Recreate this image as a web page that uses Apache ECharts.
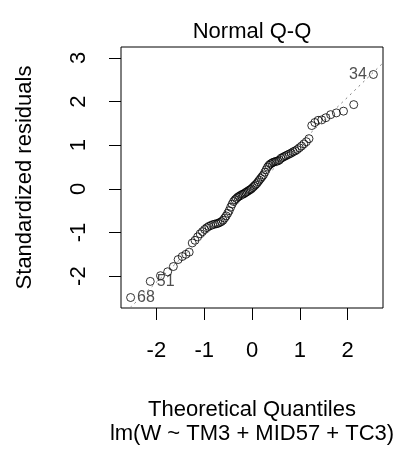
<!DOCTYPE html>
<html>
<head>
<meta charset="utf-8">
<script src="https://cdn.jsdelivr.net/npm/echarts@6/dist/echarts.min.js"></script>
<style>
html,body{margin:0;padding:0;background:#fff;}
#chart{width:400px;height:451px;}
</style>
</head>
<body>
<div id="chart"></div>
<script>
// Theoretical quantiles (n = 90)
const theoQ = [
  -2.539, -2.128, -1.914, -1.764, -1.645, -1.545, -1.459, -1.383, -1.314, -1.250,
  -1.192, -1.137, -1.085, -1.036, -0.990, -0.945, -0.903, -0.862, -0.822, -0.783,
  -0.746, -0.710, -0.674, -0.640, -0.606, -0.573, -0.540, -0.508, -0.477, -0.446,
  -0.415, -0.385, -0.355, -0.326, -0.297, -0.268, -0.240, -0.210, -0.182, -0.154,
  -0.126, -0.098, -0.070, -0.042, -0.014, 0.014, 0.042, 0.070, 0.098, 0.126,
  0.154, 0.182, 0.210, 0.240, 0.268, 0.297, 0.326, 0.355, 0.385, 0.415,
  0.446, 0.477, 0.508, 0.540, 0.573, 0.606, 0.640, 0.674, 0.710, 0.746,
  0.783, 0.822, 0.862, 0.903, 0.945, 0.990, 1.036, 1.085, 1.137, 1.192,
  1.250, 1.314, 1.383, 1.459, 1.545, 1.645, 1.764, 1.914, 2.128, 2.539
];
// Standardized residuals (sorted)
const stdRes = [
  -2.49, -2.12, -1.99, -1.90, -1.78, -1.62, -1.55, -1.50, -1.45, -1.24,
  -1.18, -1.10, -1.03, -0.98, -0.93, -0.89, -0.86, -0.84, -0.82, -0.81,
  -0.80, -0.79, -0.77, -0.75, -0.72, -0.67, -0.62, -0.56, -0.50, -0.42,
  -0.35, -0.29, -0.25, -0.22, -0.19, -0.17, -0.15, -0.13, -0.12, -0.10,
  -0.08, -0.06, -0.04, -0.02, 0.00, 0.03, 0.06, 0.09, 0.12, 0.16,
  0.20, 0.24, 0.28, 0.32, 0.38, 0.44, 0.50, 0.54, 0.57, 0.59,
  0.61, 0.62, 0.63, 0.64, 0.66, 0.70, 0.72, 0.74, 0.76, 0.78,
  0.80, 0.82, 0.85, 0.87, 0.90, 0.94, 0.98, 1.03, 1.08, 1.15,
  1.45, 1.52, 1.57, 1.58, 1.63, 1.70, 1.74, 1.78, 1.93, 2.62
];
const pointLabels = ['68', '51', '34'];
const pointLabelIdx = [0, 1, 89];
const xTicks = [-2, -1, 0, 1, 2];
const yTicks = [-2, -1, 0, 1, 2, 3];
const refLineX = [-3.0, 3.0];
const refLineY = [-3.20, 3.16];

const FONT = "'Liberation Sans', Arial, sans-serif";

const scatterData = theoQ.map((x, i) => {
  const k = pointLabelIdx.indexOf(i);
  const item = { value: [x, stdRes[i]] };
  if (k >= 0) {
    item.label = {
      show: true,
      formatter: pointLabels[k],
      position: x < 0 ? 'right' : 'left',
      distance: 2,
      fontSize: 16,
      fontFamily: FONT,
      color: '#222'
    };
  }
  return item;
});

const chart = echarts.init(document.getElementById('chart'), null, { renderer: 'canvas' });
chart.setOption({
  animation: false,
  backgroundColor: '#fff',
  title: {
    text: 'Normal Q-Q',
    left: 247, top: 16,
    textAlign: 'center',
    textStyle: { fontFamily: FONT, fontSize: 22, fontWeight: 'normal', color: '#000', lineHeight: 22 }
  },
  grid: {
    left: 121, top: 47, width: 262, height: 266,
    show: true, borderColor: '#000', borderWidth: 1, backgroundColor: 'transparent'
  },
  xAxis: {
    type: 'value', min: -2.74, max: 2.74,
    axisLine: { show: false, onZero: false },
    splitLine: { show: false },
    axisTick: { show: true, inside: false, length: 12, customValues: xTicks, lineStyle: { color: '#000', width: 1 } },
    axisLabel: { customValues: xTicks, margin: 32, fontSize: 22, fontFamily: FONT, color: '#000', lineHeight: 22 },
    name: 'Theoretical Quantiles\nlm(W ~ TM3 + MID57 + TC3)',
    nameLocation: 'middle', nameGap: 90,
    nameTextStyle: { fontFamily: FONT, fontSize: 22, color: '#000', lineHeight: 24 }
  },
  yAxis: {
    type: 'value', min: -2.73, max: 3.25,
    axisLine: { show: false, onZero: false },
    splitLine: { show: false },
    axisTick: { show: true, inside: false, length: 12, customValues: yTicks, lineStyle: { color: '#000', width: 1 } },
    axisLabel: { customValues: yTicks, rotate: 90, margin: 31, fontSize: 22, fontFamily: FONT, color: '#000', lineHeight: 22 },
    name: 'Standardized residuals',
    nameLocation: 'middle', nameGap: 85, nameRotate: 90,
    nameTextStyle: { fontFamily: FONT, fontSize: 22, color: '#000', lineHeight: 22 }
  },
  series: [
    {
      type: 'scatter',
      data: scatterData,
      symbol: 'circle',
      symbolSize: 8,
      itemStyle: { color: 'rgba(0,0,0,0)', borderColor: '#000', borderWidth: 1 },
      emphasis: { disabled: true },
      z: 2
    },
    {
      type: 'line',
      data: refLineX.map((x, i) => [x, refLineY[i]]),
      showSymbol: false,
      symbol: 'none',
      clip: true,
      lineStyle: { color: '#7f7f7f', width: 1, type: [2, 4] },
      emphasis: { disabled: true },
      z: 3
    }
  ]
});
</script>
</body>
</html>
